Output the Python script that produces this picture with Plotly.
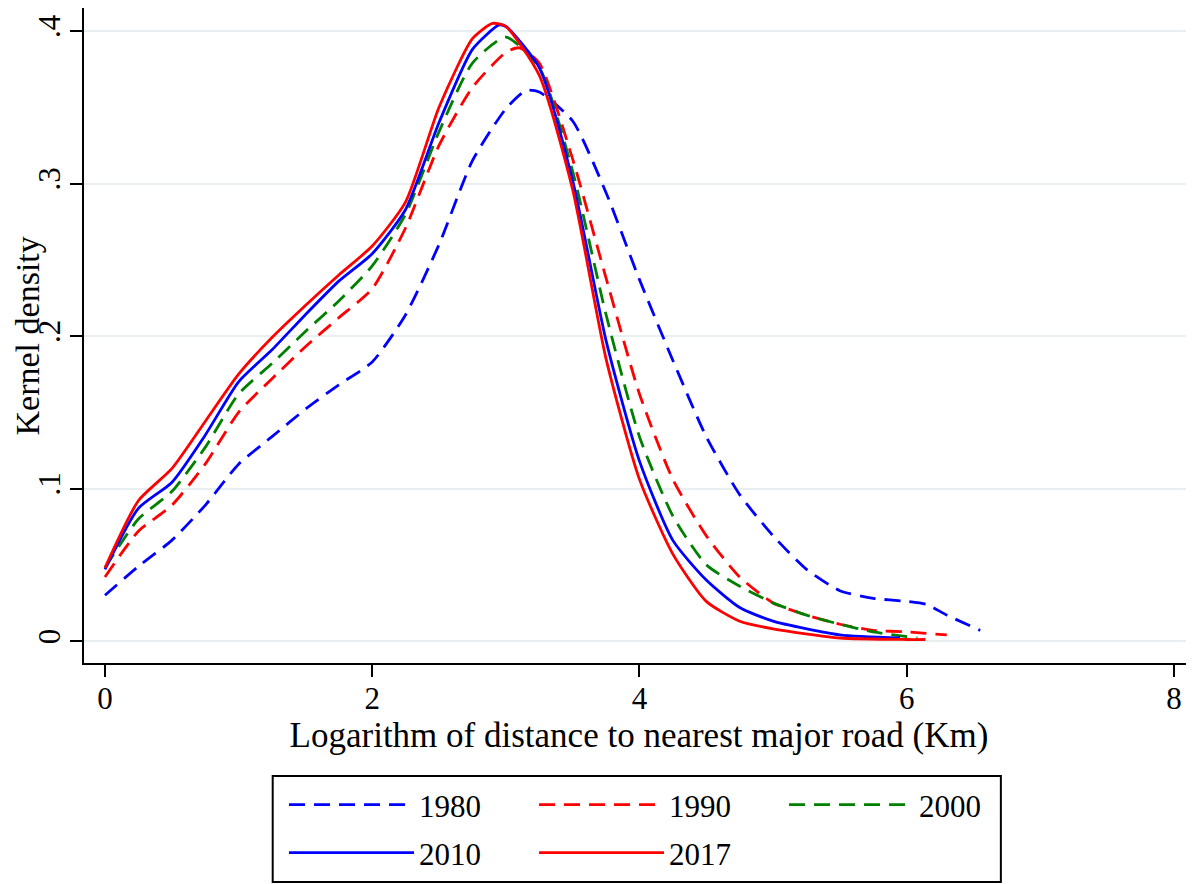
import plotly.graph_objects as go

# ---- data ----
x1980 = [0, 0.25, 0.5, 0.75, 1.0, 1.25, 1.5, 1.75, 2.0, 2.25, 2.5, 2.75, 3.0, 3.15, 3.25, 3.5, 3.75, 4.0, 4.25, 4.5, 4.75, 5.0, 5.25, 5.5, 5.75, 6.0, 6.15, 6.3, 6.55]
y1980 = [0.030, 0.049, 0.066, 0.089, 0.116, 0.134, 0.152, 0.168, 0.183, 0.214, 0.260, 0.315, 0.349, 0.361, 0.360, 0.341, 0.294, 0.237, 0.184, 0.134, 0.096, 0.069, 0.047, 0.033, 0.028, 0.026, 0.024, 0.017, 0.007]

x1990 = [0, 0.25, 0.5, 0.75, 1.0, 1.25, 1.5, 1.75, 2.0, 2.25, 2.5, 2.75, 3.0, 3.1, 3.25, 3.5, 3.75, 4.0, 4.25, 4.5, 4.75, 5.0, 5.25, 5.5, 5.75, 6.0, 6.3]
y1990 = [0.042, 0.072, 0.089, 0.116, 0.150, 0.172, 0.193, 0.212, 0.231, 0.271, 0.325, 0.363, 0.386, 0.389, 0.379, 0.316, 0.238, 0.162, 0.106, 0.069, 0.042, 0.025, 0.017, 0.011, 0.007, 0.006, 0.004]

x2000 = [0, 0.25, 0.5, 0.75, 1.0, 1.25, 1.5, 1.75, 2.0, 2.25, 2.5, 2.75, 3.0, 3.25, 3.5, 3.75, 4.0, 4.25, 4.5, 4.75, 5.0, 5.25, 5.5, 5.75, 6.08]
y2000 = [0.048, 0.080, 0.098, 0.127, 0.162, 0.182, 0.203, 0.223, 0.246, 0.280, 0.334, 0.379, 0.396, 0.376, 0.308, 0.214, 0.134, 0.082, 0.050, 0.036, 0.025, 0.017, 0.011, 0.006, 0.002]

x2010 = [0, 0.25, 0.5, 0.75, 1.0, 1.25, 1.5, 1.75, 2.0, 2.25, 2.5, 2.75, 2.95, 3.0, 3.25, 3.5, 3.75, 4.0, 4.25, 4.5, 4.75, 5.0, 5.5, 5.95]
y2010 = [0.047, 0.087, 0.104, 0.135, 0.170, 0.191, 0.214, 0.236, 0.254, 0.283, 0.340, 0.388, 0.404, 0.403, 0.376, 0.302, 0.197, 0.118, 0.066, 0.040, 0.022, 0.013, 0.004, 0.002]

x2017 = [0, 0.25, 0.5, 0.75, 1.0, 1.25, 1.5, 1.75, 2.0, 2.25, 2.5, 2.75, 2.9, 3.0, 3.25, 3.5, 3.75, 4.0, 4.25, 4.5, 4.75, 5.0, 5.5, 6.0, 6.14]
y2017 = [0.048, 0.092, 0.113, 0.144, 0.175, 0.199, 0.220, 0.240, 0.259, 0.288, 0.350, 0.395, 0.405, 0.403, 0.371, 0.296, 0.185, 0.106, 0.057, 0.026, 0.013, 0.008, 0.002, 0.001, 0.001]

y_tickvals = [0, 0.1, 0.2, 0.3, 0.4]
y_ticktext = ["0", ".1", ".2", ".3", ".4"]
x_tickvals = [0, 2, 4, 6, 8]
x_ticktext = ["0", "2", "4", "6", "8"]

FONT = "Liberation Serif"
DASH = "16px,9px"
LW = 2.8

fig = go.Figure()
fig.add_trace(go.Scatter(x=x1980, y=y1980, name="1980", mode="lines", legend="legend",
                         line=dict(color="#0000ff", width=LW, dash=DASH, shape="spline", smoothing=0.6)))
fig.add_trace(go.Scatter(x=x1990, y=y1990, name="1990", mode="lines", legend="legend",
                         line=dict(color="#ff0000", width=LW, dash=DASH, shape="spline", smoothing=0.6)))
fig.add_trace(go.Scatter(x=x2000, y=y2000, name="2000", mode="lines", legend="legend",
                         line=dict(color="#008000", width=LW, dash=DASH, shape="spline", smoothing=0.6)))
fig.add_trace(go.Scatter(x=x2010, y=y2010, name="2010", mode="lines", legend="legend2",
                         line=dict(color="#0000ff", width=LW, shape="spline", smoothing=0.6)))
fig.add_trace(go.Scatter(x=x2017, y=y2017, name="2017", mode="lines", legend="legend2",
                         line=dict(color="#ff0000", width=LW, shape="spline", smoothing=0.6)))

legend_common = dict(
    orientation="h", xanchor="left", yanchor="middle",
    font=dict(family=FONT, size=31, color="black"),
    bgcolor="rgba(0,0,0,0)", borderwidth=0,
    itemwidth=125, entrywidth=110, entrywidthmode="pixels",
    traceorder="normal", itemclick=False, itemdoubleclick=False,
)

# the page body adds an 8px offset, so the figure is 8px smaller than the window
fig.update_layout(
    width=1186, height=876,
    margin=dict(l=76, r=0, t=0, b=221, autoexpand=False),
    paper_bgcolor="white", plot_bgcolor="white",
    font=dict(family=FONT, color="black"),
    showlegend=True,
    legend=dict(x=0.1802, y=-0.2168, **legend_common),
    legend2=dict(x=0.1802, y=-0.290, **legend_common),
    shapes=[dict(type="rect", xref="paper", yref="paper",
                 x0=0.170, x1=0.826, y0=-0.3344, y1=-0.1725,
                 line=dict(color="black", width=2), fillcolor="rgba(0,0,0,0)")],
    annotations=[dict(text="Kernel density", xref="paper", yref="paper",
                      x=-0.0505, y=0.5, xanchor="center", yanchor="middle",
                      textangle=-90, showarrow=False,
                      font=dict(family=FONT, size=34, color="black"))],
)

fig.update_xaxes(
    range=[-0.157, 8.15], tickvals=x_tickvals, ticktext=x_ticktext,
    showgrid=False, zeroline=False,
    showline=True, linecolor="black", linewidth=2,
    ticks="outside", ticklen=12, tickwidth=2, tickcolor="black",
    tickfont=dict(family=FONT, size=31, color="black"),
    ticklabelstandoff=-5,
    title=dict(text="Logarithm of distance to nearest major road (Km)",
               font=dict(family=FONT, size=35, color="black"), standoff=4),
    automargin=False,
)
fig.update_yaxes(
    range=[-0.0144, 0.4151], tickvals=y_tickvals, ticktext=y_ticktext,
    showgrid=True, gridcolor="#e8eff1", gridwidth=2, zeroline=False,
    showline=True, linecolor="black", linewidth=2,
    ticks="outside", ticklen=12, tickwidth=2, tickcolor="black",
    tickangle=-90,
    tickfont=dict(family=FONT, size=31, color="black"),
    ticklabelstandoff=-2,
    automargin=False,
)

fig.write_html("out.html")
